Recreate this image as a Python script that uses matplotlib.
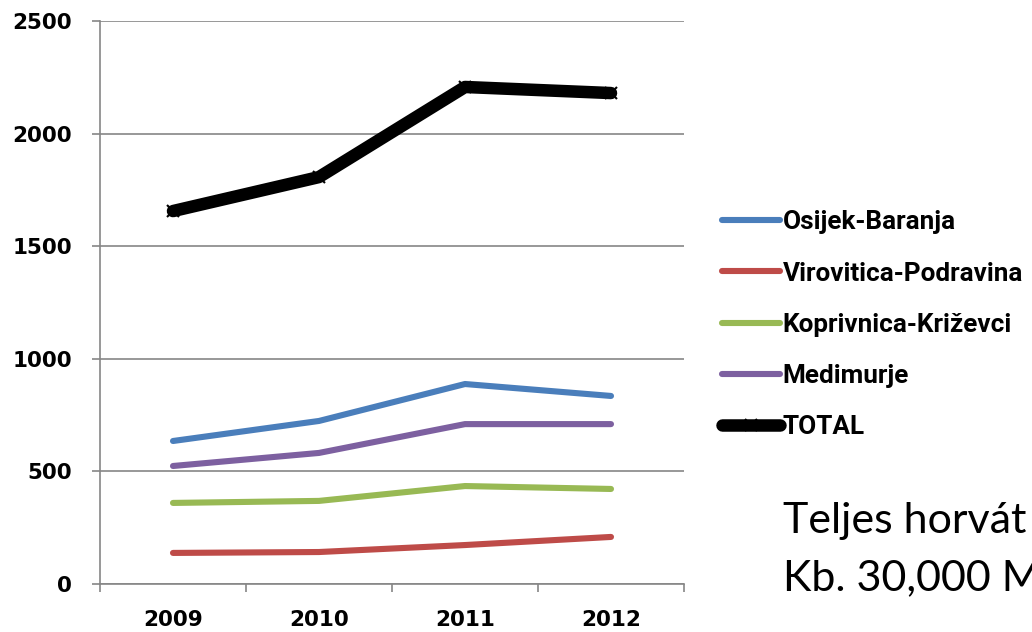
import matplotlib.pyplot as plt
from matplotlib.ticker import FixedLocator

years = ["2009", "2010", "2011", "2012"]
osijek = [635, 724, 888, 835]
virovitica = [138, 142, 173, 209]
koprivnica = [360, 369, 435, 422]
medimurje = [524, 582, 710, 710]
total = [1656, 1807, 2207, 2180]

names = ["Osijek-Baranja", "Virovitica-Podravina", "Koprivnica-Križevci", "Medimurje"]
colors = ["#4A7EBB", "#BE4B48", "#98B954", "#7D60A0"]

fig = plt.figure(figsize=(10.32, 6.32), dpi=100)
ax = fig.add_axes([100/1032, 48/632, 584/1032, 563/632])

x = [i + 0.5 for i in range(len(years))]
for vals, name, c in zip([osijek, virovitica, koprivnica, medimurje], names, colors):
    ax.plot(x, vals, color=c, lw=4.4, solid_capstyle="round", label=name, zorder=3)
ax.plot(x, total, color="black", lw=9, marker="x", ms=9, mew=1.5,
        solid_capstyle="round", label="TOTAL", zorder=4)

ax.set_xlim(0, 4)
ax.set_ylim(0, 2500)
ax.set_yticks(range(0, 2501, 500))
ax.yaxis.grid(True, color="#868686", lw=1.2)
ax.set_axisbelow(True)

ax.set_xticks(range(5))
ax.set_xticklabels([])
ax.xaxis.set_minor_locator(FixedLocator(x))
ax.set_xticklabels(years, minor=True)
ax.tick_params(axis="x", which="major", length=6, width=1.2, color="#868686", direction="out")
ax.tick_params(axis="x", which="minor", length=0, pad=19)
ax.tick_params(axis="y", length=6, width=1.2, color="#868686", pad=14)

for lab in ax.get_yticklabels() + ax.get_xticklabels(minor=True):
    lab.set_fontweight("bold")
    lab.set_fontsize(15.5)

for s in ["top", "right"]:
    ax.spines[s].set_visible(False)
for s in ["left", "bottom"]:
    ax.spines[s].set_color("#868686")
    ax.spines[s].set_linewidth(1.2)

leg = ax.legend(loc="upper left", bbox_to_anchor=(712/1032, 1 - 200/632),
                bbox_transform=fig.transFigure, frameon=False,
                prop={"family": "Roboto", "weight": "bold", "size": 18.8},
                handlelength=2.2, handletextpad=0.1, labelspacing=1.04,
                borderaxespad=0)

fig.text(783/1032, 1 - 533/632, "Teljes horvát", fontsize=31,
         family="Lato", va="baseline", ha="left")
fig.text(783/1032, 1 - 590/632, "Kb. 30,000 M", fontsize=31,
         family="Lato", va="baseline", ha="left")

fig.savefig("out.png", dpi=100)
